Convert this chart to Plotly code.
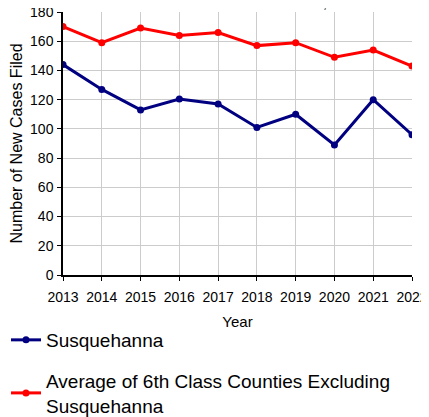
import plotly.graph_objects as go

years = [2013, 2014, 2015, 2016, 2017, 2018, 2019, 2020, 2021, 2022]
susquehanna = [144, 127, 113, 120.5, 117, 101, 110, 89, 120, 96]
avg_6th_class = [170, 159, 169, 164, 166, 157, 159, 149, 154, 143]
y_ticks = [0, 20, 40, 60, 80, 100, 120, 140, 160, 180]

# the page body has an 8px margin; figure coordinates are shifted by 8px
W, H = 429, 409
L, R, T, B = 55, 25, 4, 142
pw, ph = W - L - R, H - T - B

fig = go.Figure()
fig.add_trace(go.Scatter(
    x=years, y=susquehanna, mode="lines+markers", name="Susquehanna",
    line=dict(color="#000080", width=3), marker=dict(size=7, color="#000080"),
    legendgroup="a"))
fig.add_trace(go.Scatter(
    x=years, y=avg_6th_class, mode="lines+markers",
    name="Average of 6th Class Counties Excluding<br>Susquehanna",
    line=dict(color="#ff0000", width=3), marker=dict(size=7, color="#ff0000"),
    legendgroup="b"))

fig.update_layout(
    width=W, height=H,
    margin=dict(l=L, r=R, t=T, b=B, autoexpand=False),
    paper_bgcolor="white", plot_bgcolor="white",
    font=dict(family="Liberation Sans, Arial, sans-serif", color="black", size=14),
    title=dict(text="Number of New Cases Filed, 2013-2022", x=0.6, xanchor="center",
               yref="container", y=1.0, yanchor="bottom",
               font=dict(size=16, color="#444")),
    showlegend=True,
    legend=dict(xref="paper", yref="paper", x=(-2 - L) / pw, y=-(313 - (T + ph)) / ph,
                xanchor="left", yanchor="top", orientation="v",
                font=dict(size=19), tracegroupgap=13, itemwidth=30,
                bgcolor="rgba(0,0,0,0)"),
    xaxis=dict(range=[2013, 2022], tickvals=years, ticktext=[str(y) for y in years],
               showgrid=True, gridcolor="#cccccc", gridwidth=1,
               showline=True, linecolor="black", linewidth=1.5,
               ticks="outside", ticklen=4, tickcolor="black",
               ticklabelstandoff=4, ticklabeloverflow="allow",
               title=dict(text="Year", font=dict(size=15), standoff=13),
               tickfont=dict(size=14), zeroline=False),
    yaxis=dict(range=[0, 180], tickvals=y_ticks,
               showgrid=True, gridcolor="#cccccc", gridwidth=1,
               showline=True, linecolor="black", linewidth=1.5,
               ticks="outside", ticklen=4, tickcolor="black",
               ticklabelstandoff=1, ticklabeloverflow="allow",
               title=dict(text="Number of New Cases Filed", font=dict(size=16), standoff=6),
               tickfont=dict(size=14), zeroline=False),
)
fig.write_html("out.html")
